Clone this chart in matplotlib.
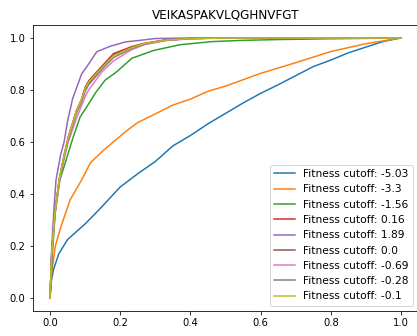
import matplotlib.pyplot as plt

title = 'VEIKASPAKVLQGHNVFGT'
cutoffs = [-5.03, -3.3, -1.56, 0.16, 1.89, 0.0, -0.69, -0.28, -0.1]

# false positive / true positive rates for each fitness cutoff
fpr_a = [0, 0.003, 0.01, 0.025, 0.05, 0.075, 0.1, 0.14, 0.2, 0.25, 0.3, 0.35,
         0.4, 0.45, 0.5, 0.55, 0.6, 0.65, 0.7, 0.75, 0.8, 0.85, 0.9, 0.95, 1.0]
tpr_a = [0, 0.06, 0.11, 0.17, 0.225, 0.255, 0.285, 0.34, 0.427, 0.478, 0.525, 0.585,
         0.625, 0.67, 0.71, 0.75, 0.787, 0.82, 0.855, 0.89, 0.915, 0.943, 0.965, 0.987, 1.0]

fpr_b = [0, 0.005, 0.015, 0.03, 0.057, 0.09, 0.115, 0.15, 0.18, 0.22, 0.25,
         0.3, 0.35, 0.4, 0.45, 0.5, 0.6, 0.7, 0.8, 0.9, 1.0]
tpr_b = [0, 0.1, 0.2, 0.27, 0.377, 0.454, 0.52, 0.565, 0.6, 0.645, 0.675,
         0.708, 0.742, 0.765, 0.795, 0.815, 0.864, 0.905, 0.948, 0.978, 1.0]

fpr_c = [0, 0.008, 0.015, 0.028, 0.048, 0.065, 0.086, 0.105, 0.13, 0.157, 0.19,
         0.233, 0.295, 0.37, 0.46, 0.55, 0.65, 0.8, 1.0]
tpr_c = [0, 0.2, 0.33, 0.454, 0.54, 0.615, 0.697, 0.736, 0.79, 0.838, 0.870,
         0.922, 0.952, 0.974, 0.986, 0.991, 0.994, 0.997, 1.0]

fpr_e = [0, 0.005, 0.012, 0.017, 0.03, 0.04, 0.05, 0.064, 0.09, 0.105, 0.133,
         0.171, 0.215, 0.25, 0.3, 0.4, 1.0]
tpr_e = [0, 0.2, 0.36, 0.454, 0.55, 0.6, 0.68, 0.765, 0.862, 0.89, 0.947,
         0.968, 0.985, 0.99, 0.998, 1.0, 1.0]

fpr_mid = [0, 0.005, 0.014, 0.026, 0.04, 0.052, 0.075, 0.09, 0.1, 0.11, 0.148,
           0.181, 0.233, 0.27, 0.33, 0.4, 0.5, 1.0]
tpr_d = [0, 0.18, 0.33, 0.455, 0.55, 0.62, 0.72, 0.765, 0.81, 0.835, 0.892,
         0.94, 0.967, 0.98, 0.993, 0.998, 1.0, 1.0]
tpr_f = [0, 0.18, 0.33, 0.452, 0.545, 0.615, 0.715, 0.76, 0.80, 0.825, 0.885,
         0.935, 0.962, 0.978, 0.992, 0.998, 1.0, 1.0]
tpr_g = [0, 0.17, 0.32, 0.445, 0.535, 0.6, 0.69, 0.74, 0.775, 0.80, 0.87,
         0.912, 0.955, 0.975, 0.99, 0.997, 1.0, 1.0]
tpr_h = [0, 0.18, 0.33, 0.45, 0.54, 0.61, 0.71, 0.755, 0.795, 0.82, 0.88,
         0.925, 0.96, 0.977, 0.991, 0.998, 1.0, 1.0]
tpr_i = [0, 0.18, 0.33, 0.455, 0.548, 0.618, 0.718, 0.763, 0.805, 0.83, 0.887,
         0.932, 0.963, 0.979, 0.992, 0.998, 1.0, 1.0]

curves = [(fpr_a, tpr_a), (fpr_b, tpr_b), (fpr_c, tpr_c), (fpr_mid, tpr_d),
          (fpr_e, tpr_e), (fpr_mid, tpr_f), (fpr_mid, tpr_g), (fpr_mid, tpr_h),
          (fpr_mid, tpr_i)]

fig = plt.figure(figsize=(417 / 72, 336 / 72), dpi=72)
ax = fig.add_axes([32.5 / 417, 25 / 336, 386 / 417, 286 / 336])

for (fpr, tpr), c in zip(curves, cutoffs):
    ax.plot(fpr, tpr, label=f'Fitness cutoff: {c}')

ax.set_xlim(-0.05, 1.05)
ax.set_ylim(-0.05, 1.05)
ax.set_title(title)
ax.legend(loc='lower right', fontsize=10.6)

fig.savefig('out.png', dpi=72)
